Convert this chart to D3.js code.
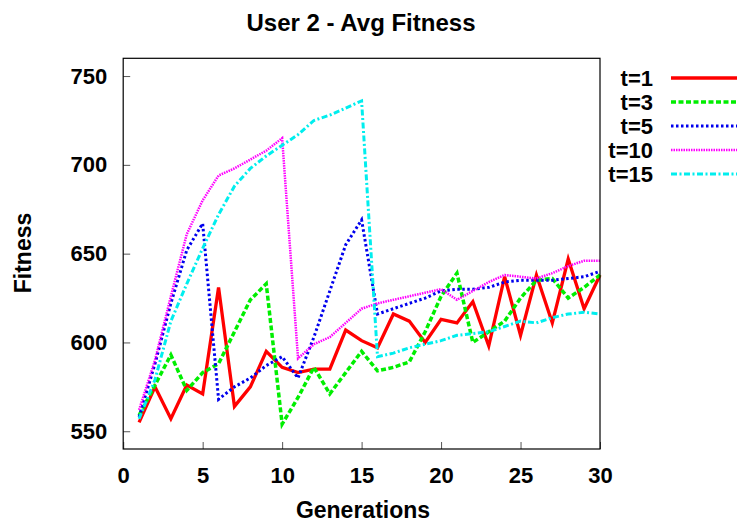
<!DOCTYPE html>
<html>
<head>
<meta charset="utf-8">
<script src="https://cdn.jsdelivr.net/npm/d3@7"></script>
<style>
  body { margin: 0; background: #fff; }
  text { font-family: "Liberation Sans", Arial, sans-serif; font-weight: bold; }
</style>
</head>
<body>
<div id="chart"></div>
<script>
// generations 1..30
const generations = d3.range(1, 31);

// avg fitness per t value
const t1  = [555, 575, 557, 576, 571, 631, 564, 575, 595, 586, 583, 585, 585, 607, 601, 597, 616, 612, 600, 613, 611, 623, 598, 637, 604, 638, 611, 647, 619, 638];
const t3  = [559, 576, 593, 573, 583, 588, 606, 624, 633, 554, 569, 586, 571, 583, 595, 584, 586, 589, 606, 626, 639, 600, 606, 612, 625, 635, 636, 625, 631, 638];
const t5  = [558, 588, 622, 652, 667, 568, 575, 580, 587, 592, 580, 603, 629, 655, 669, 616, 619, 622, 625, 629, 630, 630, 631, 634, 635, 635, 635, 636, 637, 640];
const t10 = [562, 590, 626, 661, 680, 694, 698, 703, 708, 715, 591, 599, 603, 611, 619, 622, 624, 626, 628, 630, 624, 629, 634, 638, 637, 636, 639, 643, 646, 646];
const t15 = [557, 579, 612, 633, 653, 672, 688, 698, 705, 711, 717, 725, 728, 732, 736, 592, 594, 597, 599, 601, 604, 605, 606, 609, 612, 611, 614, 616, 617, 616];

const seriesNames = ["t=1", "t=3", "t=5", "t=10", "t=15"];
const seriesValues = [t1, t3, t5, t10, t15];

const xTicks = [0, 5, 10, 15, 20, 25, 30];
const yTicks = [550, 600, 650, 700, 750];

// styles (gnuplot-like line types)
const styles = [
  { color: "#ff0000", width: 3.3, dash: null },
  { color: "#00ee00", width: 3.5, dash: "5,2.5" },
  { color: "#0000ee", width: 3,   dash: "2.5,2.5" },
  { color: "#ff00ff", width: 2.5, dash: "1.5,1" },
  { color: "#00eeee", width: 3,   dash: "6,2.5,2,2.5" }
];

const W = 737, H = 523;
const margin = { top: 58.3, right: 137, bottom: 74, left: 123.2 };
const width = W - margin.left - margin.right;
const height = H - margin.top - margin.bottom;

const svg = d3.select("#chart").append("svg")
  .attr("width", W)
  .attr("height", H);

const g = svg.append("g")
  .attr("transform", "translate(" + margin.left + "," + margin.top + ")");

const x = d3.scaleLinear().domain([0, 30]).range([0, width]);
const y = d3.scaleLinear().domain([540, 760]).range([height, 0]);

// axes with inward ticks
const axeX = d3.axisBottom(x).tickValues(xTicks).tickSizeInner(-7).tickSizeOuter(0).tickPadding(18);
const axeY = d3.axisLeft(y).tickValues(yTicks).tickSizeInner(-7).tickSizeOuter(0).tickPadding(16);

const gx = g.append("g").attr("transform", "translate(0," + height + ")").call(axeX);
const gy = g.append("g").call(axeY);
[gx, gy].forEach(a => {
  a.select(".domain").remove();
  a.selectAll("line").attr("stroke", "#555");
  a.selectAll("text").style("font-size", "22px").attr("fill", "#000");
});

// series
const line = d3.line()
  .x((d, i) => x(generations[i]))
  .y(d => y(d));

seriesValues.forEach((vals, k) => {
  g.append("path")
    .datum(vals)
    .attr("fill", "none")
    .attr("stroke", styles[k].color)
    .attr("stroke-width", styles[k].width)
    .attr("stroke-dasharray", styles[k].dash)
    .attr("d", line);
});

// frame
g.append("rect")
  .attr("width", width)
  .attr("height", height)
  .attr("fill", "none")
  .attr("stroke", "#000")
  .attr("stroke-width", 1.2);

// title & axis labels
svg.append("text")
  .attr("x", 361).attr("y", 31)
  .attr("text-anchor", "middle")
  .style("font-size", "24px")
  .text("User 2 - Avg Fitness");

svg.append("text")
  .attr("x", 363).attr("y", 518)
  .attr("text-anchor", "middle")
  .style("font-size", "23px")
  .text("Generations");

svg.append("text")
  .attr("transform", "translate(31,253) rotate(-90)")
  .attr("text-anchor", "middle")
  .style("font-size", "23px")
  .text("Fitness");

// legend
const legend = svg.append("g");
seriesNames.forEach((name, k) => {
  const ly = 78 + k * 24;
  legend.append("text")
    .attr("x", 653).attr("y", ly)
    .attr("dy", "0.36em")
    .attr("text-anchor", "end")
    .style("font-size", "22px")
    .text(name);
  legend.append("line")
    .attr("x1", 671).attr("x2", 737)
    .attr("y1", ly).attr("y2", ly)
    .attr("stroke", styles[k].color)
    .attr("stroke-width", styles[k].width)
    .attr("stroke-dasharray", styles[k].dash);
});
</script>
</body>
</html>
